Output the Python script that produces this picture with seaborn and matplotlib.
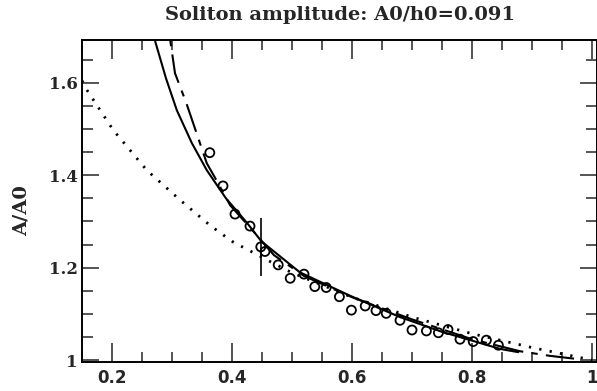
import matplotlib
matplotlib.use("Agg")
import matplotlib.pyplot as plt
from matplotlib.ticker import MultipleLocator
import numpy as np
import pandas as pd
import seaborn as sns

# ---- data ----
solid_x = [0.272, 0.29, 0.308, 0.333, 0.358, 0.39, 0.425, 0.449, 0.513, 0.597, 0.68, 0.75, 0.80, 0.847, 0.877]
solid_y = [1.69, 1.61, 1.541, 1.47, 1.411, 1.35, 1.297, 1.257, 1.19, 1.139, 1.093, 1.061, 1.042, 1.024, 1.017]

dash_x = [0.297, 0.305, 0.324, 0.341, 0.358, 0.372, 0.397, 0.43, 0.47, 0.52, 0.6, 0.7, 0.8, 0.88, 0.93, 0.97]
dash_y = [1.693, 1.621, 1.556, 1.491, 1.426, 1.394, 1.335, 1.287, 1.227, 1.182, 1.136, 1.088, 1.045, 1.019, 1.009, 1.003]

dot_x = [0.15, 0.158, 0.202, 0.258, 0.313, 0.363, 0.40, 0.458, 0.5, 0.6, 0.7, 0.8, 0.9, 1.0]
dot_y = [1.605, 1.585, 1.498, 1.411, 1.347, 1.292, 1.257, 1.217, 1.189, 1.136, 1.093, 1.057, 1.027, 1.0]

obs_x = [0.363, 0.385, 0.405, 0.43, 0.448, 0.455, 0.477, 0.497, 0.52, 0.538, 0.557, 0.579,
         0.599, 0.622, 0.64, 0.657, 0.68, 0.70, 0.724, 0.744, 0.76, 0.78, 0.802, 0.824, 0.844]
obs_y = [1.449, 1.377, 1.316, 1.290, 1.245, 1.235, 1.206, 1.177, 1.186, 1.159, 1.157, 1.137,
         1.108, 1.117, 1.107, 1.101, 1.086, 1.065, 1.063, 1.059, 1.066, 1.045, 1.040, 1.043, 1.032]

err_x = [0.448]
err_y = [1.245]
err_h = [0.062]

title = "Soliton amplitude: A0/h0=0.091"
ylabel = "A/A0"
xticks = [0.2, 0.4, 0.6, 0.8, 1.0]
xticklabels = ["0.2", "0.4", "0.6", "0.8", "1"]
yticks = [1.0, 1.2, 1.4, 1.6]
yticklabels = ["1", "1.2", "1.4", "1.6"]

# ---- figure ----
sns.set_theme(style="ticks")
plt.rcParams['font.family'] = ['DejaVu Serif']

fig = plt.figure(figsize=(5.97, 3.91), dpi=100)
ax = fig.add_axes([82 / 597, 1 - 362 / 391, (596.8 - 82) / 597, (362 - 40) / 391])

sns.lineplot(x=solid_x, y=solid_y, ax=ax, color="black", lw=1.5, sort=False, estimator=None)
l2 = sns.lineplot(x=dash_x, y=dash_y, ax=ax, color="black", lw=1.5, sort=False, estimator=None).lines[-1]
l2.set_dashes((3, 4, 14, 4))
sns.lineplot(x=dot_x, y=dot_y, ax=ax, color="black", lw=2.0, sort=False, estimator=None,
             linestyle=(0, (0.8, 3.0)))
ax.errorbar(err_x, err_y, yerr=err_h, fmt="none", ecolor="black", elinewidth=1.2, capsize=0)
sns.scatterplot(x=obs_x, y=obs_y, ax=ax, marker="o", s=42, facecolor="none",
                edgecolor="black", linewidth=1.3, zorder=5)

ax.set_xlim(0.15, 1.008)
ax.set_ylim(0.9957, 1.693)

ax.set_xticks(xticks)
ax.set_xticklabels(xticklabels)
ax.set_yticks(yticks)
ax.set_yticklabels(yticklabels)
ax.xaxis.set_minor_locator(MultipleLocator(0.05))
ax.yaxis.set_minor_locator(MultipleLocator(0.05))

ax.tick_params(axis="x", which="major", direction="in", length=14, width=1.1,
               top=True, bottom=True, pad=5, labelsize=12)
ax.tick_params(axis="x", which="minor", direction="in", length=7, width=1.1,
               top=True, bottom=True)
ax.tick_params(axis="y", which="major", direction="in", length=12, width=1.1,
               left=True, right=True, pad=3, labelsize=12)
ax.tick_params(axis="y", which="minor", direction="in", length=8, width=1.1,
               left=True, right=True)
for lab in ax.get_xticklabels():
    lab.set_fontweight("bold")
    lab.set_family("DejaVu Sans")
for lab in ax.get_yticklabels():
    lab.set_fontweight("bold")

for sp in ax.spines.values():
    sp.set_linewidth(1.4)
    sp.set_color("black")
    sp.set_visible(True)

ax.set_xlabel("")
ax.set_ylabel(ylabel, fontsize=14, fontweight="bold")
ax.yaxis.set_label_coords(-0.099, 0.47)
fig.text(340 / 597, 1 - 15 / 391, title, ha="center", va="center",
         fontsize=14, fontweight="bold")

fig.savefig("out.png", dpi=100, facecolor="white")
